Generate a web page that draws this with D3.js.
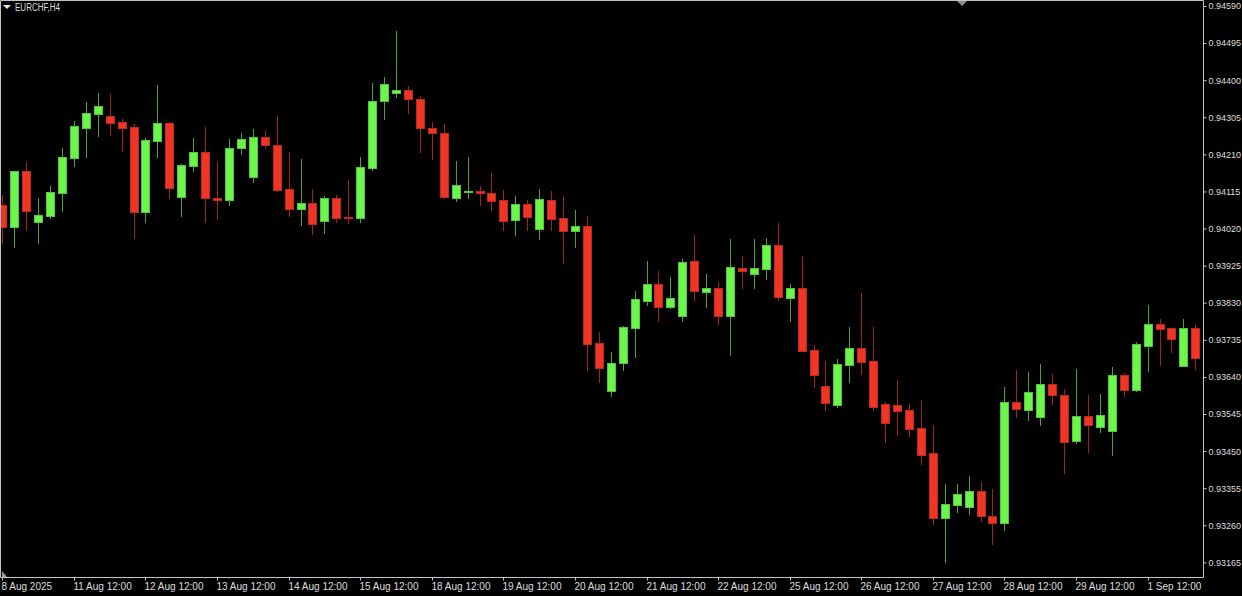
<!DOCTYPE html>
<html>
<head>
<meta charset="utf-8">
<script src="https://cdn.jsdelivr.net/npm/d3@7"></script>
<style>
html,body{margin:0;padding:0;background:#000;overflow:hidden}
svg{display:block}
text{font-family:"Liberation Sans",Arial,sans-serif}
</style>
</head>
<body>
<svg id="chart" width="1242" height="596"></svg>
<script>
const symbolTitle = "EURCHF,H4";

const openP = [
0.94081,0.94023,0.94167,0.94037,0.94051,0.94111,0.94200,0.94278,0.94314,0.94308,
0.94292,0.94280,0.94062,0.94244,0.94291,0.94102,0.94180,0.94216,0.94099,0.94093,
0.94226,0.94153,0.94254,0.94235,0.94121,0.94069,0.94086,0.94040,0.94098,0.94050,
0.94047,0.94176,0.94346,0.94367,0.94375,0.94353,0.94278,0.94264,0.94098,0.94115,
0.94117,0.94110,0.94093,0.94043,0.94083,0.94019,0.94093,0.94048,0.94014,0.94026,
0.93727,0.93603,0.93675,0.93766,0.93835,0.93878,0.93818,0.93795,0.93936,0.93858,
0.93867,0.93796,0.93919,0.93903,0.93916,0.93978,0.93842,0.93869,0.93709,0.93618,
0.93567,0.93670,0.93714,0.93681,0.93570,0.93569,0.93555,0.93509,0.93445,0.93278,
0.93312,0.93306,0.93348,0.93284,0.93265,0.93577,0.93555,0.93538,0.93623,0.93594,
0.93476,0.93540,0.93513,0.93501,0.93645,0.93606,0.93720,0.93776,0.93766,0.93667,
0.93766];
const highP = [
0.94106,0.94167,0.94190,0.94098,0.94129,0.94226,0.94296,0.94344,0.94367,0.94365,
0.94301,0.94287,0.94251,0.94388,0.94292,0.94186,0.94251,0.94280,0.94191,0.94249,
0.94266,0.94275,0.94271,0.94307,0.94216,0.94199,0.94121,0.94104,0.94106,0.94144,
0.94204,0.94393,0.94408,0.94526,0.94385,0.94360,0.94293,0.94288,0.94193,0.94203,
0.94129,0.94163,0.94119,0.94104,0.94093,0.94122,0.94116,0.94102,0.94068,0.94052,
0.93756,0.93705,0.93771,0.93860,0.93937,0.93912,0.93896,0.93942,0.94004,0.93904,
0.93883,0.93994,0.93950,0.93994,0.93995,0.94035,0.93878,0.93950,0.93722,0.93682,
0.93686,0.93768,0.93856,0.93769,0.93577,0.93633,0.93571,0.93581,0.93517,0.93366,
0.93365,0.93387,0.93371,0.93353,0.93615,0.93658,0.93653,0.93674,0.93648,0.93610,
0.93660,0.93594,0.93597,0.93665,0.93650,0.93729,0.93825,0.93789,0.93766,0.93789,
0.93772];
const lowP = [
0.93983,0.93974,0.94017,0.93983,0.94047,0.94065,0.94179,0.94202,0.94257,0.94260,
0.94219,0.93997,0.94038,0.94202,0.94099,0.94051,0.94168,0.94038,0.94045,0.94081,
0.94210,0.94138,0.94226,0.94117,0.94053,0.94029,0.94006,0.94008,0.94038,0.94033,
0.94037,0.94170,0.94300,0.94358,0.94317,0.94217,0.94198,0.94098,0.94091,0.94098,
0.94081,0.94067,0.94016,0.94004,0.94017,0.93994,0.94017,0.93933,0.93974,0.93658,
0.93628,0.93590,0.93658,0.93690,0.93825,0.93784,0.93816,0.93784,0.93836,0.93820,
0.93776,0.93695,0.93869,0.93867,0.93890,0.93836,0.93784,0.93707,0.93615,0.93556,
0.93562,0.93626,0.93648,0.93556,0.93473,0.93492,0.93489,0.93417,0.93264,0.93167,
0.93293,0.93290,0.93272,0.93213,0.93247,0.93537,0.93529,0.93516,0.93571,0.93395,
0.93471,0.93447,0.93499,0.93439,0.93590,0.93604,0.93654,0.93671,0.93704,0.93667,
0.93660];
const closeP = [
0.94023,0.94167,0.94065,0.94055,0.94114,0.94204,0.94283,0.94315,0.94334,0.94291,
0.94278,0.94062,0.94247,0.94291,0.94125,0.94182,0.94217,0.94098,0.94093,0.94227,
0.94249,0.94254,0.94235,0.94119,0.94071,0.94086,0.94031,0.94098,0.94048,0.94046,
0.94178,0.94347,0.94391,0.94375,0.94353,0.94277,0.94264,0.94100,0.94132,0.94117,
0.94110,0.94091,0.94040,0.94083,0.94050,0.94096,0.94045,0.94014,0.94026,0.93724,
0.93663,0.93675,0.93769,0.93839,0.93878,0.93820,0.93842,0.93934,0.93860,0.93867,
0.93796,0.93921,0.93912,0.93919,0.93978,0.93844,0.93869,0.93707,0.93644,0.93572,
0.93674,0.93714,0.93678,0.93563,0.93523,0.93553,0.93506,0.93441,0.93278,0.93315,
0.93339,0.93347,0.93284,0.93266,0.93577,0.93557,0.93601,0.93623,0.93595,0.93473,
0.93540,0.93516,0.93543,0.93645,0.93607,0.93725,0.93776,0.93764,0.93738,0.93765,
0.93688];

const xTickIndex = [0,6,12,18,24,30,36,42,48,54,60,66,72,78,84,90,96];
const xTickLabels = ["8 Aug 2025","11 Aug 12:00","12 Aug 12:00","13 Aug 12:00","14 Aug 12:00",
  "15 Aug 12:00","18 Aug 12:00","19 Aug 12:00","20 Aug 12:00","21 Aug 12:00","22 Aug 12:00",
  "25 Aug 12:00","26 Aug 12:00","27 Aug 12:00","28 Aug 12:00","29 Aug 12:00","1 Sep 12:00"];
const yTicks = [0.94590,0.94495,0.94400,0.94305,0.94210,0.94115,0.94020,0.93925,
  0.93830,0.93735,0.93640,0.93545,0.93450,0.93355,0.93260,0.93165];

// ---- layout ----
const W = 1242, H = 596;
const plotRight = 1203, plotBottom = 577;
const lineCol = "#c4c4c4", textCol = "#dedede";
const upFill = "#6cf54a", upEdge = "#52c637", upWick = "#45a52c";
const dnFill = "#ee3526", dnEdge = "#c0281c", dnWick = "#a3231a";

const svg = d3.select("#chart");
svg.append("rect").attr("width", W).attr("height", H).attr("fill", "#000");

const n = openP.length;
const x = d3.scaleLinear().domain([0, n - 1]).range([2.3, 2.3 + (n - 1) * 11.93]);
const y = d3.scaleLinear().domain([0.93165, 0.94590]).range([562.4, 6]);

svg.append("clipPath").attr("id", "plotClip")
  .append("rect").attr("x", 1).attr("y", 1).attr("width", plotRight - 1).attr("height", plotBottom - 1);

const plot = svg.append("g").attr("clip-path", "url(#plotClip)");
const idx = d3.range(n);
const up = i => closeP[i] >= openP[i];
const cx = i => Math.round(x(i));

plot.selectAll("line.wick").data(idx).join("line")
  .attr("class", "wick")
  .attr("x1", i => cx(i) + 0.5).attr("x2", i => cx(i) + 0.5)
  .attr("y1", i => Math.round(y(highP[i])))
  .attr("y2", i => Math.round(y(lowP[i])) + 1)
  .attr("stroke", i => up(i) ? upWick : dnWick)
  .attr("stroke-width", 1);

plot.selectAll("rect.body").data(idx).join("rect")
  .attr("class", "body")
  .attr("x", i => cx(i) - 3.5)
  .attr("width", 8)
  .attr("y", i => Math.round(y(Math.max(openP[i], closeP[i]))) + 0.5)
  .attr("height", i => Math.max(1, Math.round(y(Math.min(openP[i], closeP[i]))) - Math.round(y(Math.max(openP[i], closeP[i])))))
  .attr("fill", i => up(i) ? upFill : dnFill)
  .attr("stroke", i => up(i) ? upEdge : dnEdge)
  .attr("stroke-width", 1);

// frame
svg.append("path")
  .attr("d", `M0.5,${plotBottom + 0.5}V0.5H${plotRight + 0.5}V${plotBottom + 0.5}Z`)
  .attr("fill", "none").attr("stroke", lineCol).attr("stroke-width", 1);

// right price axis
const yAxis = d3.axisRight(y).tickValues(yTicks).tickFormat(d3.format(".5f")).tickSize(3).tickPadding(2);
const gy = svg.append("g").attr("transform", `translate(${plotRight + 0.5},0)`).call(yAxis);
gy.select(".domain").remove();
gy.selectAll(".tick line").attr("stroke", lineCol);
gy.selectAll(".tick text").attr("fill", textCol).style("font-size", "9px")
  .style("font-family", "'Liberation Sans', Arial, sans-serif");

// bottom time axis
const xAxis = d3.axisBottom(x).tickValues(xTickIndex)
  .tickFormat((d, i) => xTickLabels[i]).tickSize(3).tickPadding(3);
const gx = svg.append("g").attr("transform", `translate(0,${plotBottom + 0.5})`).call(xAxis);
gx.select(".domain").remove();
gx.selectAll(".tick").attr("transform", d => `translate(${cx(d) + 0.5},0)`);
gx.selectAll(".tick line").attr("stroke", lineCol);
gx.selectAll(".tick text").attr("fill", textCol).attr("text-anchor", "start")
  .attr("x", -1).attr("y", 12).attr("dy", 0)
  .style("font-size", "10px").style("font-family", "'Liberation Sans', Arial, sans-serif");

// title with drop-down marker
svg.append("path").attr("d", "M3,5H11L7,9Z").attr("fill", "#e8e8e8");
svg.append("text").attr("x", 15).attr("y", 11)
  .attr("fill", textCol).style("font-size", "10px")
  .attr("textLength", 45).attr("lengthAdjust", "spacingAndGlyphs")
  .text(symbolTitle);

// shift marker at top and scroll marker at bottom-left
svg.append("path").attr("d", "M957,1H967L962,6Z").attr("fill", "#8c8c8c");
svg.append("path").attr("d", "M2,571V577H7Z").attr("fill", "#9a9a9a");
</script>
</body>
</html>
